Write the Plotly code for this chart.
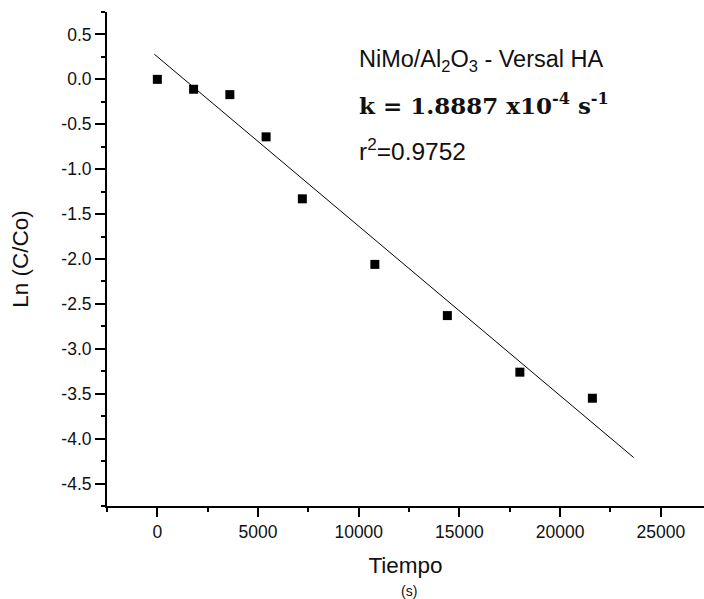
import plotly.graph_objects as go

# Data
tiempo_s = [0, 1800, 3600, 5400, 7200, 10800, 14400, 18000, 21600]
ln_c_co = [0.0, -0.11, -0.17, -0.64, -1.33, -2.06, -2.63, -3.26, -3.55]

fit_x = [-150, 23650]
fit_y = [0.28, -4.21]

x_ticks = [0, 5000, 10000, 15000, 20000, 25000]
x_tick_labels = ["0", "5000", "10000", "15000", "20000", "25000"]
y_ticks = [0.5, 0.0, -0.5, -1.0, -1.5, -2.0, -2.5, -3.0, -3.5, -4.0, -4.5]
y_tick_labels = ["0.5", "0.0", "-0.5", "-1.0", "-1.5", "-2.0", "-2.5", "-3.0", "-3.5", "-4.0", "-4.5"]

FONT = "Liberation Sans, Arial, sans-serif"
TXT = "#111111"

fig = go.Figure()
fig.add_trace(go.Scatter(x=fit_x, y=fit_y, mode="lines",
                         line=dict(color="black", width=1), showlegend=False,
                         hoverinfo="skip"))
fig.add_trace(go.Scatter(x=tiempo_s, y=ln_c_co, mode="markers",
                         marker=dict(symbol="square", size=9, color="black",
                                     line=dict(width=0)),
                         showlegend=False))

fig.update_layout(
    width=704, height=599,
    margin=dict(l=107, r=0, t=12, b=93),
    paper_bgcolor="white", plot_bgcolor="white",
    font=dict(family=FONT, color=TXT, size=17),
    xaxis=dict(range=[-2500, 27143], tickvals=x_ticks, ticktext=x_tick_labels,
               ticks="outside", ticklen=9, tickwidth=2, tickcolor="black",
               showline=True, linecolor="black", linewidth=2,
               showgrid=False, zeroline=False,
               tickfont=dict(family=FONT, size=17.5, color=TXT),
               minor=dict(dtick=2500, tick0=0, ticks="outside", ticklen=4, tickwidth=2,
                          tickcolor="black", showgrid=False),
               title=dict(text="Tiempo", font=dict(family=FONT, size=22.5, color=TXT), standoff=16)),
    yaxis=dict(range=[-4.75, 0.75], tickvals=y_ticks, ticktext=y_tick_labels,
               ticks="outside", ticklen=10, tickwidth=2, tickcolor="black",
               showline=True, linecolor="black", linewidth=2,
               showgrid=False, zeroline=False,
               tickfont=dict(family=FONT, size=17.5, color=TXT),
               minor=dict(dtick=0.25, tick0=0, ticks="outside", ticklen=4, tickwidth=2,
                          tickcolor="black", showgrid=False),
               title=dict(text="Ln (C/Co)", font=dict(family=FONT, size=22.5, color=TXT), standoff=26)),
    annotations=[
        dict(text="NiMo/Al<sub>2</sub>O<sub>3</sub> - Versal HA", xref="paper", yref="paper",
             x=(357 - 107) / 597, y=(506 - 61) / 494, xanchor="left", yanchor="middle",
             showarrow=False, font=dict(family=FONT, size=23.5, color=TXT)),
        dict(text="<b>k = 1.8887 x10<sup>-4</sup> s<sup>-1</sup></b>", xref="paper", yref="paper",
             x=(357 - 107) / 597, y=(506 - 104) / 494, xanchor="left", yanchor="middle",
             showarrow=False, font=dict(family="DejaVu Serif, serif", size=23, color=TXT)),
        dict(text="r<sup>2</sup>=0.9752", xref="paper", yref="paper",
             x=(357 - 107) / 597, y=(506 - 149) / 494, xanchor="left", yanchor="middle",
             showarrow=False, font=dict(family=FONT, size=24.5, color=TXT)),
        dict(text="(s)", xref="paper", yref="paper",
             x=(409 - 107) / 597, y=(506 - 591) / 494, xanchor="center", yanchor="middle",
             showarrow=False, font=dict(family=FONT, size=14, color=TXT)),
    ],
)

fig.write_html("out.html")
